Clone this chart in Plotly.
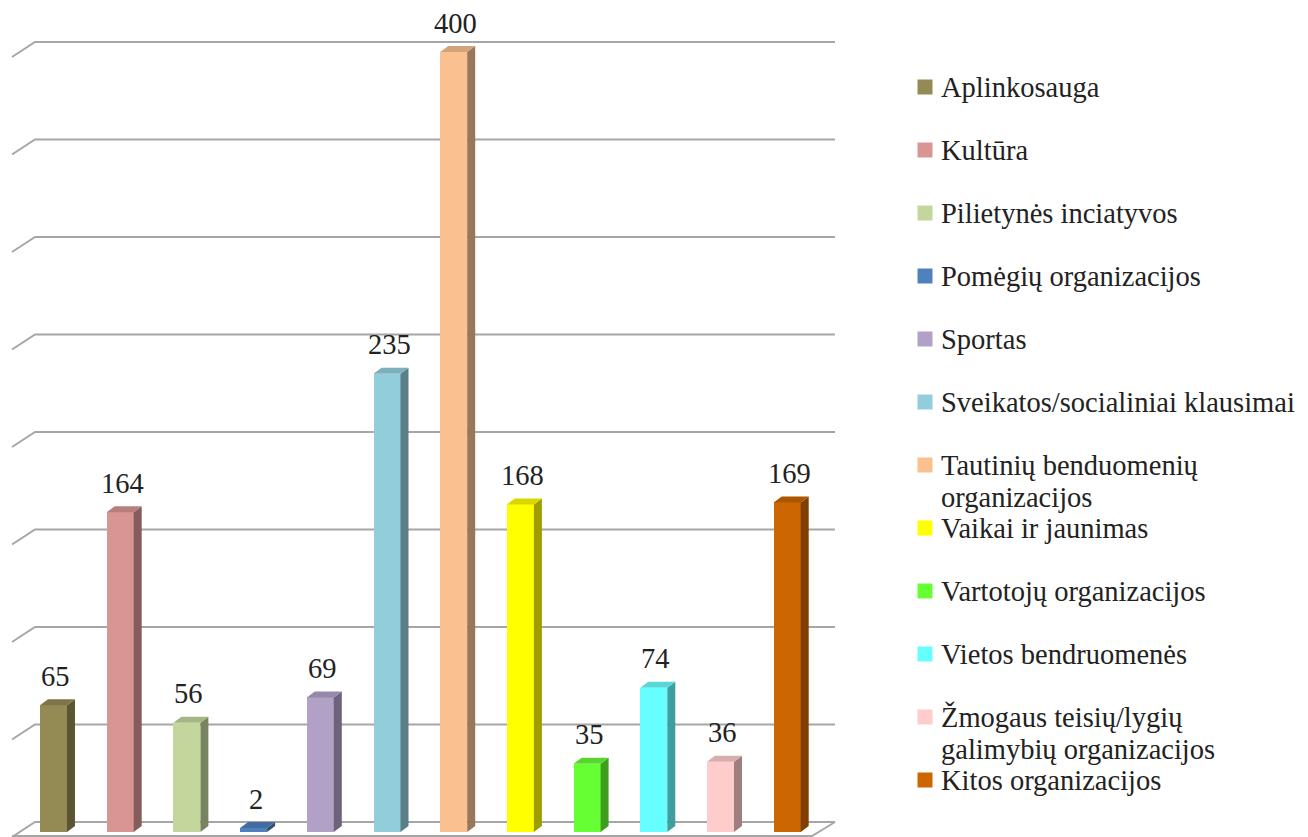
import plotly.graph_objects as go

categories = [
    "Aplinkosauga", "Kultūra", "Pilietynės inciatyvos", "Pomėgių organizacijos",
    "Sportas", "Sveikatos/socialiniai klausimai", "Tautinių benduomenių organizacijos",
    "Vaikai ir jaunimas", "Vartotojų organizacijos", "Vietos bendruomenės",
    "Žmogaus teisių/lygių galimybių organizacijos", "Kitos organizacijos",
]
values = [65, 164, 56, 2, 69, 235, 400, 168, 35, 74, 36, 169]
colors = ["#948A54", "#D99594", "#C3D69B", "#4F81BD", "#B2A1C7", "#92CDDC",
          "#FAC090", "#FFFF00", "#66FF33", "#66FFFF", "#FFCCCC", "#CC6600"]
legend_lines = [
    ["Aplinkosauga"], ["Kultūra"], ["Pilietynės inciatyvos"], ["Pomėgių organizacijos"],
    ["Sportas"], ["Sveikatos/socialiniai klausimai"], ["Tautinių benduomenių", "organizacijos"],
    ["Vaikai ir jaunimas"], ["Vartotojų organizacijos"], ["Vietos bendruomenės"],
    ["Žmogaus teisių/lygių", "galimybių organizacijos"], ["Kitos organizacijos"],
]
grid_values = [0, 50, 100, 150, 200, 250, 300, 350, 400]

OFF = 8                      # page body margin
W, H = 1308 - OFF, 837 - OFF
FONT = "Liberation Serif"
TXT = "#222222"
GRID = "#a6a6a6"
FS = 28.5

# pixel geometry helpers (reference pixels -> axis units)
PX_CAT = 66.7     # pixels per category
X0PX = 53.5       # pixel of first category centre
PX_UNIT = 1.95    # pixels per value unit
Y0PX = 832        # pixel (from top) of value 0 (front)


def dxu(px):
    return px / PX_CAT


def dyu(px):
    return px / PX_UNIT


def xat(px):
    return (px - X0PX) / PX_CAT


def shade(hexc, f):
    h = hexc.lstrip("#")
    r, g, b = int(h[0:2], 16), int(h[2:4], 16), int(h[4:6], 16)
    return "#%02x%02x%02x" % (int(r * f), int(g * f), int(b * f))


xs = list(range(len(categories)))
BW = dxu(27)
DX, DY = dxu(8), dyu(6)

fig = go.Figure()
fig.add_trace(go.Bar(
    x=xs, y=values, width=BW, marker=dict(color=colors, line=dict(width=0)),
    showlegend=False, hoverinfo="skip",
))

shapes = []
# back wall gridlines with perspective slant
back = dyu(10)
for gv in grid_values:
    yb = gv + back
    shapes.append(dict(type="path", xref="x", yref="y", layer="below",
                       path=f"M {xat(12)},{yb - dyu(15)} L {xat(35)},{yb} L {xat(835)},{yb}",
                       line=dict(color=GRID, width=2)))
# floor front and right edge
shapes.append(dict(type="path", xref="x", yref="y", layer="below",
                   path=f"M {xat(12)},{dyu(-4)} L {xat(812)},{dyu(-4)} L {xat(835)},{back}",
                   line=dict(color=GRID, width=2)))

# 3D side and top faces of bars
for x, v, c in zip(xs, values, colors):
    xl, xr = x - BW / 2, x + BW / 2
    shapes.append(dict(type="path", xref="x", yref="y", layer="above",
                       path=f"M {xr},0 L {xr + DX},{DY} L {xr + DX},{v + DY} L {xr},{v} Z",
                       fillcolor=shade(c, 0.62), line=dict(width=0)))
    shapes.append(dict(type="path", xref="x", yref="y", layer="above",
                       path=f"M {xl},{v} L {xl + DX},{v + DY} L {xr + DX},{v + DY} L {xr},{v} Z",
                       fillcolor=shade(c, 0.85), line=dict(width=0)))

annotations = []
for x, v in zip(xs, values):
    annotations.append(dict(x=x, y=v, xref="x", yref="y", text=str(v), showarrow=False,
                            yanchor="middle", yshift=29, xshift=2,
                            font=dict(family=FONT, size=FS, color=TXT)))

# legend (manual, evenly spaced like the original)
LEG_Y0, LEG_STEP = 87, 63
fig.add_trace(go.Scatter(
    x=[925] * len(categories), y=list(range(len(categories))), mode="markers",
    marker=dict(symbol="square", size=15, color=colors, line=dict(width=0)),
    xaxis="x2", yaxis="y2", showlegend=False, hoverinfo="skip",
))
for i, lines in enumerate(legend_lines):
    for j, ln in enumerate(lines):
        annotations.append(dict(x=939, y=i + j * 32 / LEG_STEP, xref="x2", yref="y2",
                                text=ln, showarrow=False, xanchor="left", yanchor="middle",
                                font=dict(family=FONT, size=FS, color=TXT)))

# legend axis: reversed, index i at reference pixel LEG_Y0 + i*LEG_STEP
r_top = -(LEG_Y0 - OFF) / LEG_STEP
r_bot = r_top + H / LEG_STEP

fig.update_layout(
    width=W, height=H, margin=dict(l=0, r=0, t=0, b=0),
    paper_bgcolor="white", plot_bgcolor="rgba(0,0,0,0)",
    xaxis=dict(domain=[0, 1], range=[xat(OFF), xat(OFF + W)], visible=False, fixedrange=True),
    yaxis=dict(domain=[0, 1], range=[-dyu(OFF + H - Y0PX), dyu(Y0PX - OFF)],
               visible=False, fixedrange=True),
    xaxis2=dict(domain=[0, 1], range=[OFF, OFF + W], visible=False, anchor="y2", overlaying="x"),
    yaxis2=dict(domain=[0, 1], range=[r_bot, r_top], visible=False, anchor="x2", overlaying="y"),
    shapes=shapes, annotations=annotations, bargap=0,
)

fig.write_html("out.html")
